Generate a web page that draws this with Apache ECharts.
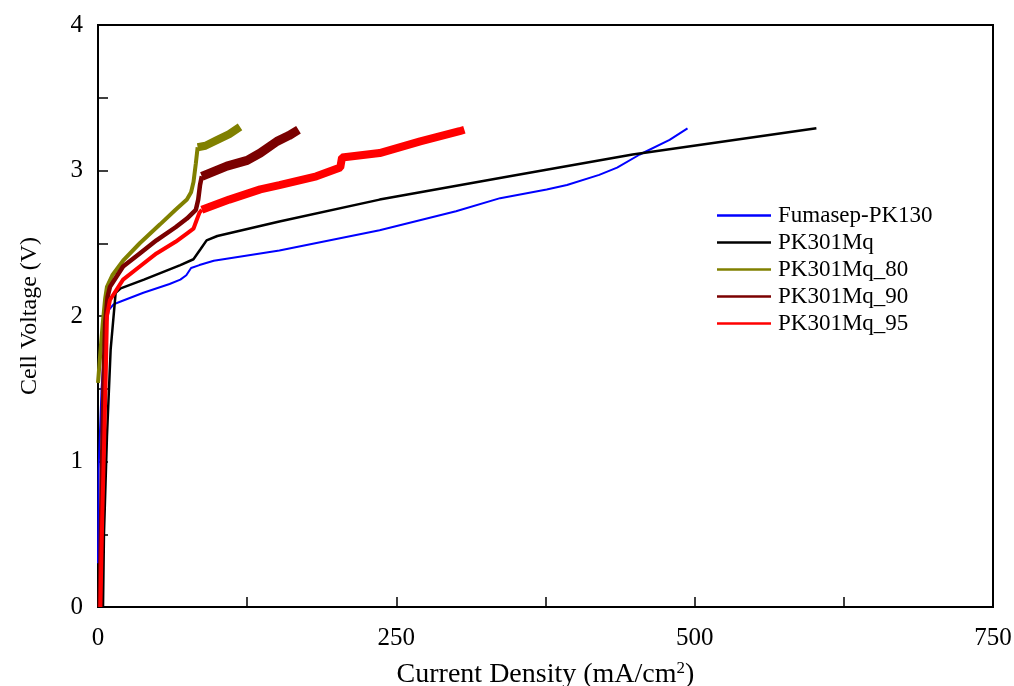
<!DOCTYPE html>
<html>
<head>
<meta charset="utf-8">
<script src="https://cdn.jsdelivr.net/npm/echarts@6/dist/echarts.min.js"></script>
<style>html,body{margin:0;padding:0;background:#fff}#c{width:1014px;height:686px}</style>
</head>
<body>
<div id="c"></div>
<script>
const seriesNames = ['Fumasep-PK130', 'PK301Mq', 'PK301Mq_80', 'PK301Mq_90', 'PK301Mq_95'];
const xTicks = [0, 250, 500, 750];
const yTicks = [0, 1, 2, 3, 4];

const fumasep = [[0,0.3],[0.5,0.95],[3,1.5],[6,1.88],[9,2.04],[13,2.08],[19,2.10],[38,2.16],[60,2.22],[69,2.25],[74,2.28],[78,2.33],[85,2.35],[97,2.38],[152,2.45],[236,2.59],[300,2.72],[337,2.81],[376,2.87],[393,2.90],[420,2.97],[435,3.02],[454,3.11],[479,3.21],[494,3.29]];
const pk301 = [[4.2,0],[5,0.5],[7.5,1.17],[10.6,1.77],[14.8,2.16],[19,2.19],[38.5,2.25],[69,2.35],[80,2.39],[86,2.46],[91,2.52],[100,2.55],[152,2.65],[236,2.80],[345,2.96],[448,3.11],[602,3.29]];
const pk80a = [[0,1.54],[2,1.75],[4,1.95],[6,2.12],[7.5,2.2],[12,2.28],[21,2.38],[35,2.5],[52,2.63],[65,2.73],[74.5,2.80],[78,2.85],[80,2.92],[82,3.05],[83.5,3.16]];
const pk80b = [[83.5,3.16],[90,3.17],[100,3.21],[110,3.25],[119,3.30]];
const pk90a = [[1.5,0],[3,0.8],[4.5,1.5],[6,1.95],[8,2.13],[10,2.2],[21,2.34],[35,2.43],[49,2.52],[65,2.61],[74.5,2.67],[82,2.73],[84,2.80],[85.5,2.9],[87,2.96]];
const pk90b = [[87,2.96],[108,3.03],[125,3.07],[136,3.12],[150,3.20],[160,3.24],[168,3.28]];
const pk95a = [[2,0],[3.5,0.6],[5,1.08],[6.5,1.6],[7.5,2.0],[10,2.11],[21,2.25],[35,2.34],[49,2.43],[65,2.51],[75,2.57],[80,2.6],[82.7,2.66],[85,2.71],[87,2.73]];
const pk95b = [[87,2.73],[110,2.80],[136,2.87],[152,2.90],[183,2.96],[203,3.02],[204.5,3.09],[236,3.12],[270,3.20],[303,3.27],[307,3.28]];

const colors = ['#0000ff', '#000000', '#808000', '#7b0000', '#ff0000'];
const FONT = '"Liberation Serif", "Times New Roman", serif';

function line(name, data, color, width) {
  return { name, type: 'line', data, symbol: 'none', showSymbol: false,
    lineStyle: { color, width }, itemStyle: { color }, z: 2 };
}

const chart = echarts.init(document.getElementById('c'), null, { renderer: 'canvas' });
chart.setOption({
  animation: false,
  backgroundColor: '#fff',
  grid: { left: 98, right: 21, top: 25, bottom: 79, show: true, borderColor: '#000', borderWidth: 2, backgroundColor: 'transparent',
    containLabel: false, outerBoundsMode: 'none' },
  legend: {
    data: seriesNames.map((n, i) => ({ name: n, icon: 'rect', itemStyle: { color: colors[i] } })),
    orient: 'vertical', left: 712, top: 199,
    itemWidth: 54, itemHeight: 2.5, itemGap: 4,
    textStyle: { fontFamily: FONT, fontSize: 23, color: '#000', padding: [0,0,0,2] }
  },
  xAxis: {
    type: 'value', min: xTicks[0], max: xTicks[xTicks.length-1], interval: 250,
    name: 'Current Density (mA/cm{sup|2})', nameLocation: 'middle', nameGap: 53,
    nameTextStyle: { fontFamily: FONT, fontSize: 28, color: '#000',
      rich: { sup: { fontFamily: FONT, fontSize: 17, color: '#000', verticalAlign: 'top', padding: [0,0,12,0] } } },
    axisLine: { show: true, lineStyle: { color: '#000', width: 2 } },
    axisTick: { show: true, inside: true, length: 10, lineStyle: { color: '#000', width: 1.5 } },
    minorTick: { show: true, splitNumber: 2, length: 10, lineStyle: { color: '#000', width: 1.5 } },
    axisLabel: { fontFamily: FONT, fontSize: 25, color: '#000', margin: 19 },
    splitLine: { show: false }
  },
  yAxis: {
    type: 'value', min: yTicks[0], max: yTicks[yTicks.length-1], interval: 1,
    name: 'Cell Voltage (V)', nameLocation: 'middle', nameGap: 56, nameRotate: 90,
    nameTextStyle: { fontFamily: FONT, fontSize: 24, color: '#000' },
    axisLine: { show: true, lineStyle: { color: '#000', width: 2 } },
    axisTick: { show: true, inside: true, length: 10, lineStyle: { color: '#000', width: 1.5 } },
    minorTick: { show: true, splitNumber: 2, length: 10, lineStyle: { color: '#000', width: 1.5 } },
    axisLabel: { fontFamily: FONT, fontSize: 25, color: '#000', margin: 15 },
    splitLine: { show: false }
  },
  series: [
    line(seriesNames[0], fumasep, colors[0], 2),
    line(seriesNames[1], pk301, colors[1], 2.5),
    line(seriesNames[2], pk80a, colors[2], 4),
    line(seriesNames[2], pk80b, colors[2], 8),
    line(seriesNames[3], pk90a, colors[3], 4.5),
    line(seriesNames[3], pk90b, colors[3], 9),
    line(seriesNames[4], pk95a, colors[4], 4),
    line(seriesNames[4], pk95b, colors[4], 8)
  ]
});
</script>
</body>
</html>
